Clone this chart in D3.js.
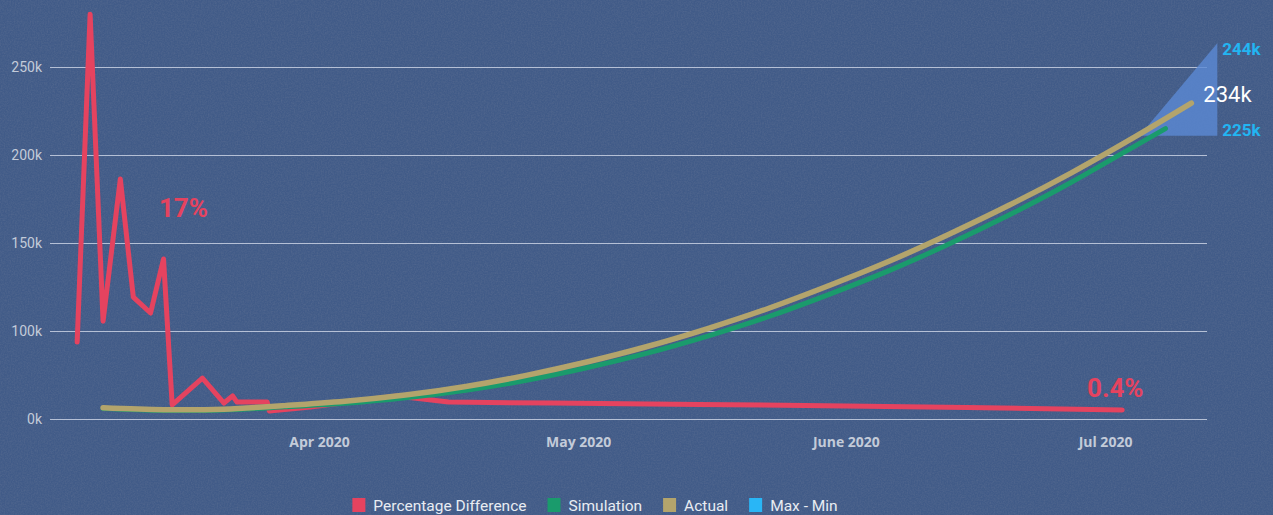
<!DOCTYPE html>
<html>
<head>
<meta charset="utf-8">
<script src="https://cdn.jsdelivr.net/npm/d3@7"></script>
<style>
  body { margin: 0; background: #3f5985; }
  svg { display: block; }
</style>
</head>
<body>
<svg width="1273" height="515"></svg>
<script>
// ---- data ----
var actualDates = ["2020-03-07","2020-03-14","2020-03-21","2020-03-28","2020-04-04","2020-04-11","2020-04-18","2020-04-25",
  "2020-05-02","2020-05-09","2020-05-16","2020-05-23","2020-05-30","2020-06-06","2020-06-13","2020-06-20","2020-06-27",
  "2020-07-04","2020-07-11"];
var actualValues = [56400,55300,55600,57600,60100,63600,68500,74800,82400,91200,101400,112800,125700,139600,155100,
  171700,189600,209000,229500];

var simDates = ["2020-03-07","2020-03-14","2020-03-21","2020-03-28","2020-04-04","2020-04-11","2020-04-18","2020-04-25",
  "2020-05-02","2020-05-09","2020-05-16","2020-05-23","2020-05-30","2020-06-06","2020-06-13","2020-06-20","2020-06-27",
  "2020-07-04","2020-07-08"];
var simValues = [56000,54900,55100,56900,58900,62000,66300,72000,79100,87400,97100,108100,120700,134300,149600,
  166200,184200,203800,215000];

var pctDates = ["2020-03-04","2020-03-05 12:00","2020-03-07","2020-03-09","2020-03-10 12:00","2020-03-12 12:00",
  "2020-03-14","2020-03-15","2020-03-18 12:00","2020-03-21","2020-03-22","2020-03-22 12:00","2020-03-26",
  "2020-03-26 06:00","2020-03-31","2020-04-10","2020-04-16","2020-04-28","2020-05-15","2020-06-01","2020-06-15",
  "2020-07-03"];
var pctValues = [3.23,17.0,4.11,10.08,5.12,4.45,6.72,0.59,1.72,0.67,0.97,0.71,0.71,0.34,0.5,0.97,0.71,0.67,0.61,
  0.55,0.48,0.38];

var rangeDates = ["2020-07-05","2020-07-14"];
var rangeMax = [211000,263500];
var rangeMin = [211000,211000];

var yTicks = [50000,100000,150000,200000,250000];
var yTickLabels = ["0k","100k","150k","200k","250k"];
var xTicks = ["2020-04-01","2020-05-01","2020-06-01","2020-07-01"];
var xTickLabels = ["Apr 2020","May 2020","June 2020","Jul 2020"];

var legendNames = ["Percentage Difference","Simulation","Actual","Max - Min"];
var legendColors = ["#e5435f","#1a9b6c","#b3a46c","#29b6f6"];

var maxLabel = "244k", minLabel = "225k", lastLabel = "234k";
var peakPctLabel = "17%", lastPctLabel = "0.4%";

// ---- setup ----
var parseFull = d3.timeParse("%Y-%m-%d %H:%M");
function toDate(s){ return parseFull(s.length > 10 ? s : s + " 00:00"); }

var svg = d3.select('svg');
var defs = svg.append('defs');
var f = defs.append('filter').attr('id','paper').attr('x',0).attr('y',0).attr('width','100%').attr('height','100%');
f.append('feTurbulence').attr('type','fractalNoise').attr('baseFrequency','0.7').attr('numOctaves',3).attr('seed',4);
f.append('feColorMatrix').attr('type','matrix')
  .attr('values','0 0 0 0 0.12  0 0 0 0 0.17  0 0 0 0 0.30  0 0 0 1.1 -0.35');

svg.append('rect').attr('width',1273).attr('height',515).attr('fill','#415b88');
svg.append('rect').attr('width',1273).attr('height',515).attr('filter','url(#paper)').attr('opacity',0.7);

var left = 50, right = 1207;

var x = d3.scaleTime()
  .domain([toDate("2020-04-01"), toDate("2020-07-01")])
  .range([319, 1105]);
var y = d3.scaleLinear().domain([50000, 250000]).range([419, 67]);
// the difference line sits on its own hidden percent scale
var yPct = d3.scaleLinear().domain([0, 17]).range([y(50000), y(280000)]);

// y gridlines + labels
var yAxis = svg.append('g')
  .attr('transform','translate(' + left + ',0)')
  .call(d3.axisLeft(y).tickValues(yTicks)
    .tickFormat(function(d,i){ return yTickLabels[i]; })
    .tickSize(-(right - left)).tickPadding(8));
yAxis.select('.domain').remove();
yAxis.selectAll('line').attr('stroke','#c9d1e3').attr('stroke-opacity',0.85);
yAxis.selectAll('text').attr('fill','#c3cbd9').style('font-family','Roboto, sans-serif').style('font-size','14px');

// x labels
var xAxis = svg.append('g')
  .attr('transform','translate(0,433)')
  .call(d3.axisBottom(x).tickValues(xTicks.map(toDate))
    .tickFormat(function(d,i){ return xTickLabels[i]; })
    .tickSize(0).tickPadding(4));
xAxis.select('.domain').remove();
xAxis.selectAll('text').attr('fill','#c3cbd9').style('font-family','"Open Sans", sans-serif')
  .style('font-size','14px').style('font-weight','bold');

// max - min range
var rangeData = rangeDates.map(function(d,i){ return {date: toDate(d), hi: rangeMax[i], lo: rangeMin[i]}; });
svg.append('path')
  .datum(rangeData)
  .attr('fill','#5b8ad4')
  .attr('fill-opacity',0.8)
  .attr('d', d3.area()
    .x(function(d){ return x(d.date); })
    .y0(function(d){ return y(d.lo); })
    .y1(function(d){ return y(d.hi); }));

// percentage difference
var pctData = pctDates.map(function(d,i){ return {date: toDate(d), v: pctValues[i]}; });
svg.append('path')
  .datum(pctData)
  .attr('fill','none')
  .attr('stroke', legendColors[0])
  .attr('stroke-width',5)
  .attr('stroke-linejoin','round')
  .attr('stroke-linecap','round')
  .attr('d', d3.line()
    .x(function(d){ return x(d.date); })
    .y(function(d){ return yPct(d.v); }));

var smooth = d3.line()
  .curve(d3.curveNatural)
  .x(function(d){ return x(d.date); })
  .y(function(d){ return y(d.v); });

var simData = simDates.map(function(d,i){ return {date: toDate(d), v: simValues[i]}; });
svg.append('path')
  .datum(simData)
  .attr('fill','none')
  .attr('stroke', legendColors[1])
  .attr('stroke-width',5)
  .attr('stroke-linecap','round')
  .attr('d', smooth);

var actData = actualDates.map(function(d,i){ return {date: toDate(d), v: actualValues[i]}; });
svg.append('path')
  .datum(actData)
  .attr('fill','none')
  .attr('stroke', legendColors[2])
  .attr('stroke-width',5.5)
  .attr('stroke-linecap','round')
  .attr('d', smooth);

// annotations
var lastAct = actData[actData.length - 1];
var lastRange = rangeData[rangeData.length - 1];
var lastPct = pctData[pctData.length - 1];

svg.append('text')
  .text(lastLabel)
  .attr('x', x(lastAct.date) + 12)
  .attr('y', y(lastAct.v) - 1)
  .attr('fill','#ffffff')
  .style('font-family','Roboto, sans-serif')
  .style('font-size','22px');

svg.append('text')
  .text(maxLabel)
  .attr('x', x(lastRange.date) + 5)
  .attr('y', y(lastRange.hi) + 12)
  .attr('fill','#22b5f2')
  .style('font-family','Roboto, sans-serif')
  .style('font-size','17px').style('font-weight','bold');

svg.append('text')
  .text(minLabel)
  .attr('x', x(lastRange.date) + 5)
  .attr('y', y(lastRange.lo))
  .attr('fill','#22b5f2')
  .style('font-family','Roboto, sans-serif')
  .style('font-size','17px').style('font-weight','bold');

svg.append('text')
  .text(peakPctLabel)
  .attr('x', x(toDate("2020-03-13")) + 4)
  .attr('y', yPct(8.5))
  .attr('fill', legendColors[0])
  .style('font-family','Roboto, sans-serif')
  .style('font-size','26px').style('font-weight','bold');

svg.append('text')
  .text(lastPctLabel)
  .attr('x', x(lastPct.date) - 7)
  .attr('y', yPct(lastPct.v) - 13)
  .attr('text-anchor','middle')
  .attr('fill', legendColors[0])
  .style('font-family','Roboto, sans-serif')
  .style('font-size','26px').style('font-weight','bold');

// legend, laid out by measured widths and centred
var legend = svg.append('g');
var items = legend.selectAll('g').data(legendNames).enter().append('g');
items.append('rect').attr('width',13).attr('height',14).attr('y',498)
  .attr('fill', function(d,i){ return legendColors[i]; });
items.append('text').text(function(d){ return d; })
  .attr('x',21).attr('y',511)
  .attr('fill','#e8ecf2')
  .style('font-family','Roboto, sans-serif')
  .style('font-size','15.5px');
var pos = 0;
items.each(function(){
  var w = d3.select(this).select('text').node().getComputedTextLength();
  d3.select(this).attr('transform','translate(' + pos + ',0)');
  pos += 21 + w + 21;
});
legend.attr('transform','translate(' + (595 - (pos - 21) / 2) + ',0)');
</script>
</body>
</html>
